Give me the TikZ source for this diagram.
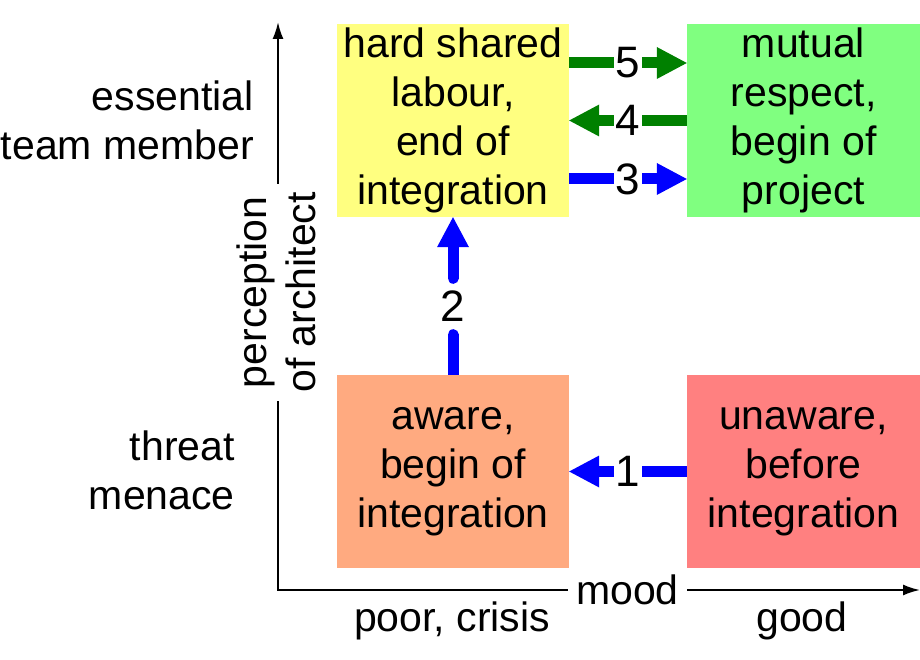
\documentclass[tikz,border=0pt]{standalone}
\usepackage{fontspec}
\setmainfont{Liberation Sans}
\usetikzlibrary{arrows.meta}
\pgfdeclarelayer{bg}
\pgfsetlayers{bg,main}
\definecolor{boxyellow}{HTML}{FFFF80}
\definecolor{boxgreen}{HTML}{80FF80}
\definecolor{boxorange}{HTML}{FFAA80}
\definecolor{boxred}{HTML}{FF8080}
\definecolor{arrowblue}{HTML}{0000FF}
\definecolor{arrowgreen}{HTML}{008000}
\begin{document}
\begin{tikzpicture}[x=1pt,y=-1pt,
  every node/.style={font=\fontsize{41}{49}\selectfont},
  box/.style={minimum width=232pt, minimum height=193pt, align=center, inner sep=0pt},
  bigarrow/.style={line width=11pt, -{Triangle[length=30pt,width=32pt,line width=0pt]}},
  numlab/.style={fill=white, text=black, inner sep=1.5pt, font=\fontsize{44}{49}\selectfont},
  axislab/.style={fill=white, inner sep=8pt, align=center},
  sidelab/.style={align=right, anchor=east, inner sep=0pt},
  axisline/.style={line width=2pt, {Latex[length=17pt,width=11pt]}-{Latex[length=17pt,width=11pt]}}]
\useasboundingbox (0,0) rectangle (920,660);

% axes
\coordinate (ytip) at (278,22);
\coordinate (origin) at (278,590);
\coordinate (xtip) at (920,590);
\draw[axisline] (ytip) -- (origin) -- (xtip);
\node[axislab] (mood) at (627.5,590) {mood};
\node[axislab, rotate=90] (percep) at (276,292.5) {perception\\of architect};

% boxes
\node[box, fill=boxyellow] (hard) at (453,120.5) {hard shared\\labour,\\end of\\integration};
\node[box, fill=boxgreen, minimum width=233pt] (mutual) at (803.5,120.5) {mutual\\respect,\\begin of\\project};
\node[box, fill=boxorange] (aware) at (453,471.5) {aware,\\begin of\\integration};
\node[box, fill=boxred, minimum width=233pt] (unaware) at (803.5,471.5) {unaware,\\before\\integration};

% side labels
\node[sidelab] (ess) at (254,120.5) {essential\\team member};
\node[sidelab] (threat) at (235,470) {threat\\menace};
\node (poor) at (452,621) {poor, crisis};
\node (good) at (802,621) {good};

% arrows
\node[numlab, fill=none, inner sep=0pt, minimum height=56pt] (lab2) at (453,306.5) {2};
\begin{pgfonlayer}{bg}
\draw[bigarrow, arrowgreen] ([yshift=57.5pt]hard.east) -- node[numlab]{5} ([yshift=57.5pt]mutual.west);
\draw[bigarrow, arrowgreen] (mutual.west) -- node[numlab]{4} (hard.east);
\draw[bigarrow, arrowblue] ([yshift=-58.5pt]hard.east) -- node[numlab]{3} ([yshift=-58.5pt]mutual.west);
\draw[bigarrow, arrowblue] (unaware.west) -- node[numlab]{1} (aware.east);
\draw[line width=11pt, arrowblue, line cap=round] (aware.north) -- (lab2.south);
\draw[bigarrow, arrowblue, line cap=round] (lab2.north) -- (hard.south);
\end{pgfonlayer}
\end{tikzpicture}
\end{document}
